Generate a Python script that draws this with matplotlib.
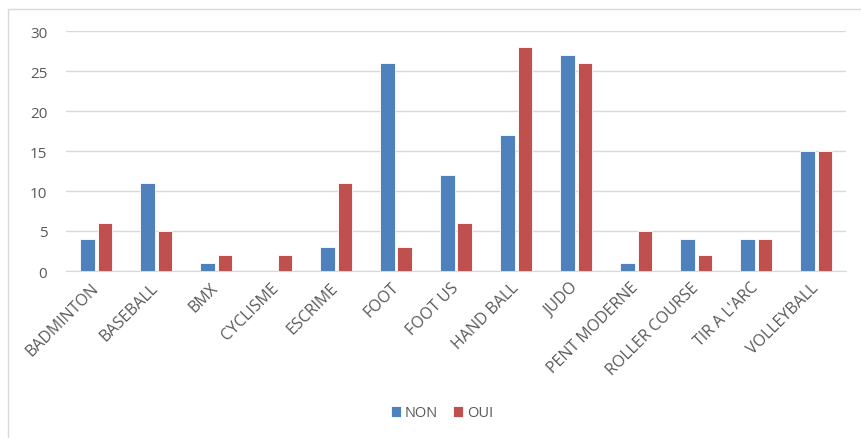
import matplotlib.pyplot as plt
import matplotlib.patches as mpatches
import numpy as np

sports = ["BADMINTON", "BASEBALL", "BMX", "CYCLISME", "ESCRIME", "FOOT", "FOOT US",
          "HAND BALL", "JUDO", "PENT MODERNE", "ROLLER COURSE", "TIR A L'ARC", "VOLLEYBALL"]
non = [4, 11, 1, 0, 3, 26, 12, 17, 27, 1, 4, 4, 15]
oui = [6, 5, 2, 2, 11, 3, 6, 28, 26, 5, 2, 4, 15]

plt.rcParams['font.family'] = ['Open Sans', 'DejaVu Sans']

fig = plt.figure(figsize=(8.61, 4.39), dpi=100)
ax = fig.add_axes([66/861, 1-272/439, 780/861, 240/439])

# chart border
fig.patches.append(mpatches.Rectangle((8/861, -0.01), 1.0, 1-10/439+0.01, transform=fig.transFigure,
                                      fill=False, edgecolor='#d9d9d9', linewidth=1))

x = np.arange(len(sports))
w = 0.24
ax.bar(x - 0.145, non, w, color='#4f81bd', edgecolor='white', linewidth=0.6, label='NON', zorder=3)
ax.bar(x + 0.145, oui, w, color='#c0504d', edgecolor='white', linewidth=0.6, label='OUI', zorder=3)

ax.set_xlim(-0.5, len(sports) - 0.5)
ax.set_ylim(0, 30)
ax.set_yticks(range(0, 31, 5))
ax.yaxis.grid(True, color='#d9d9d9', linewidth=1)
ax.set_axisbelow(True)
for s in ['top', 'right', 'left']:
    ax.spines[s].set_visible(False)
ax.spines['bottom'].set_color('#d9d9d9')
ax.tick_params(axis='y', length=0, labelsize=11, labelcolor='#595959', pad=13.5)
ax.tick_params(axis='x', length=0, labelsize=11.5, labelcolor='#595959', pad=10)
ax.set_xticks(x)
ax.set_xticklabels(sports, rotation=45, ha='right', va='center', rotation_mode='anchor')

fig.legend(loc='center', bbox_to_anchor=(442/861, 1-414/439), ncol=2, frameon=False,
           fontsize=10.5, handlelength=0.7, handleheight=0.7, columnspacing=1.0,
           handletextpad=0.3, labelcolor='#595959')

plt.savefig('out.png', dpi=100)
